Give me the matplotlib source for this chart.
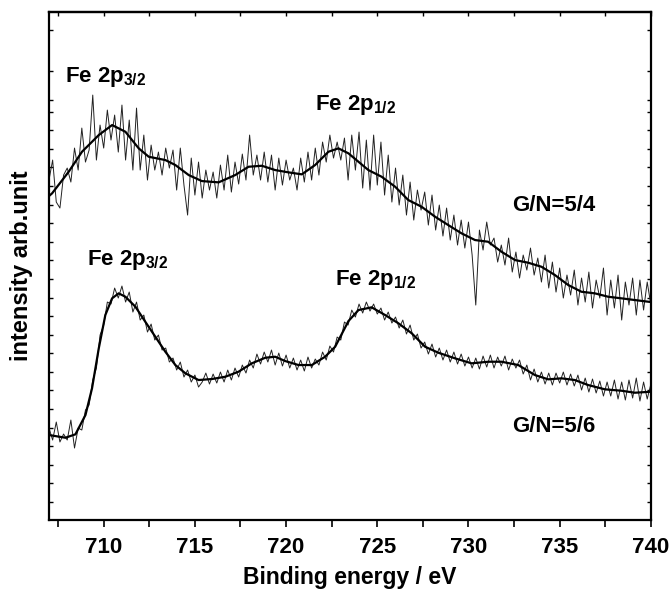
import matplotlib
matplotlib.use("Agg")
import matplotlib.pyplot as plt
import numpy as np

plt.rcParams['font.family'] = ['Liberation Sans', 'DejaVu Sans']
plt.rcParams['font.weight'] = 'bold'
plt.rcParams['mathtext.fontset'] = 'custom'
plt.rcParams['mathtext.rm'] = 'Liberation Sans:bold'
plt.rcParams['mathtext.it'] = 'Liberation Sans:bold'
plt.rcParams['mathtext.bf'] = 'Liberation Sans:bold'
plt.rcParams['mathtext.default'] = 'rm'

# ---------------- data ----------------
# binding energy grid of the raw spectra (eV)
energy_raw = [round(707.0 + 0.2 * i, 1) for i in range(166)]

# G/N=5/4 raw spectrum (arb. units)
raw_54 = [
    340, 360, 318, 312, 345, 352, 338, 372, 350, 392,
    358, 370, 425, 360, 395, 372, 410, 380, 405, 368,
    415, 360, 400, 350, 412, 350, 385, 340, 375, 350,
    368, 345, 372, 352, 370, 330, 372, 335, 305, 362,
    325, 358, 322, 350, 330, 348, 322, 355, 330, 365,
    328, 358, 336, 366, 340, 385, 345, 365, 340, 368,
    338, 365, 330, 362, 335, 360, 340, 352, 330, 362,
    338, 368, 340, 372, 345, 378, 358, 385, 362, 378,
    360, 382, 340, 385, 350, 388, 332, 380, 330, 385,
    335, 378, 325, 365, 318, 352, 315, 345, 305, 338,
    300, 330, 310, 328, 295, 325, 290, 315, 284, 312,
    280, 305, 275, 300, 272, 298, 265, 215, 290, 270,
    298, 275, 282, 258, 275, 255, 282, 248, 268, 242,
    265, 250, 272, 245, 262, 238, 265, 232, 258, 228,
    252, 222, 245, 225, 250, 215, 242, 218, 248, 212,
    240, 222, 252, 205, 240, 212, 245, 200, 238, 215,
    242, 205, 240, 210, 238, 215,
]

# G/N=5/6 raw spectrum (arb. units)
raw_56 = [
    92, 80, 98, 78, 86, 80, 100, 72, 92, 90,
    110, 115, 140, 152, 185, 195, 218, 216, 232, 222,
    234, 218, 228, 208, 218, 200, 205, 188, 196, 180,
    185, 170, 172, 158, 162, 150, 158, 143, 150, 138,
    145, 133, 138, 147, 136, 146, 137, 148, 138, 150,
    140, 152, 143, 155, 147, 160, 152, 166, 156, 168,
    158, 170, 155, 167, 154, 165, 152, 162, 150, 160,
    149, 163, 152, 161, 155, 168, 160, 174, 168, 183,
    180, 198, 195, 210, 203, 216, 207, 218, 209, 216,
    206, 212, 200, 208, 197, 203, 192, 200, 186, 195,
    180, 186, 172, 178, 166, 176, 163, 172, 160, 170,
    158, 168, 156, 166, 154, 163, 152, 162, 151, 164,
    153, 165, 152, 163, 154, 164, 150, 161, 152, 160,
    146, 155, 140, 151, 138, 148, 136, 147, 135, 147,
    137, 148, 135, 146, 134, 145, 130, 142, 128, 141,
    127, 139, 124, 138, 124, 140, 121, 138, 120, 140,
    122, 142, 119, 138, 121, 136,
]

# smoothed fits (read points)
fit_54_x = [707.0, 707.17, 708.08, 708.81, 709.73, 710.46, 711.19, 711.92, 712.47,
            713.38, 713.93, 714.66, 715.38, 716.30, 717.21, 717.94, 718.67, 719.40,
            720.13, 720.86, 721.59, 722.32, 722.87, 723.42, 724.51, 725.24, 725.98,
            726.70, 727.43, 728.17, 728.89, 729.62, 730.36, 731.08, 731.81, 732.55,
            733.28, 734.00, 734.74, 735.47, 736.19, 736.93, 737.66, 738.39, 739.12,
            740.0]
fit_54_y = [324, 326.7, 348.3, 368.3, 385, 395, 388.3, 371.7, 363.3,
            360, 355, 345, 339, 337.7, 345, 353.3, 354.3, 350,
            347.7, 345.7, 355, 368.3, 371.7, 366.7, 350, 343.3, 333.3,
            320, 313.3, 303.3, 295, 286.7, 280, 278.3, 268.3, 260,
            257.3, 253.3, 245, 235, 228.3, 226.7, 223.3, 221.7, 220,
            218]

fit_56_x = [707.0, 707.90, 708.45, 709.00, 709.36, 709.73, 710.09, 710.46, 710.82,
            711.19, 711.74, 712.28, 712.83, 713.38, 713.93, 714.48, 715.20, 715.93,
            716.67, 717.39, 718.12, 718.86, 719.40, 719.95, 720.68, 721.41, 722.14,
            722.69, 723.42, 723.97, 724.69, 725.43, 726.16, 726.89, 727.62, 728.35,
            729.26, 730.17, 731.09, 731.81, 732.73, 733.64, 734.37, 735.10, 735.83,
            736.56, 737.48, 738.39, 739.12, 740.0]
fit_56_y = [85, 82.3, 85.7, 105, 131.7, 171.7, 205, 221.7, 226.7,
            223.3, 213.3, 198.3, 183.3, 168.3, 155, 146.7, 140, 141,
            143.3, 148.3, 156.7, 162.3, 163.3, 159, 155, 155, 163.3,
            173.3, 199, 210, 212.7, 205, 196.7, 186.7, 173.3, 167.3,
            161.7, 156.7, 158.3, 158.3, 155, 145, 140.7, 141.7, 140,
            135, 130.7, 129.3, 127.3, 128.3]

x_ticks = [710, 715, 720, 725, 730, 735, 740]
y_ticks = [18, 37, 55, 74, 92, 111, 130, 148, 167, 185, 204, 222, 241, 260,
           278, 297, 315, 334, 353, 371, 390, 408, 420, 449, 490]

# ---------------- plot ----------------
fig = plt.figure(figsize=(6.71, 5.92), dpi=100)
ax = fig.add_axes([0.073, 0.1216, 0.897, 0.858])

ax.plot(energy_raw, raw_54, color='#222222', lw=0.7)
ax.plot(energy_raw, raw_56, color='#222222', lw=0.7)
ax.plot(fit_54_x, fit_54_y, color='black', lw=1.6)
ax.plot(fit_56_x, fit_56_y, color='black', lw=1.6)

ax.set_xlim(707, 740)
ax.set_ylim(0, 508)
ax.set_xticks(x_ticks)
ax.set_xticks(np.arange(707.5, 740, 2.5), minor=True)
ax.set_yticks(y_ticks)
ax.set_yticklabels([])
ax.tick_params(axis='x', which='both', direction='out', length=5, width=1.2,
               labelsize=16, pad=7, top=False)
ax.tick_params(axis='y', which='both', direction='in', length=3, width=1.0,
               left=True, right=True)
sec = ax.secondary_xaxis('top')
sec.set_xticks(x_ticks)
sec.set_xticks(np.arange(707.5, 740, 2.5), minor=True)
sec.tick_params(which='both', direction='in', length=3, width=1.0, labeltop=False)
sec.spines['top'].set_linewidth(1.6)
for s in ax.spines.values():
    s.set_linewidth(1.6)
for lab in ax.get_xticklabels():
    lab.set_fontweight('bold')

ax.set_xlabel('Binding energy / eV', fontsize=16.5, fontweight='bold', labelpad=6)
ax.set_ylabel('intensity arb.unit', fontsize=17, fontweight='bold', labelpad=8)

kw = dict(fontsize=16, fontweight='bold', ha='center', va='center')
ax.text(710.1, 443, r'Fe 2p$_{3/2}$', **kw)
ax.text(723.8, 415, r'Fe 2p$_{1/2}$', **kw)
ax.text(711.3, 260, r'Fe 2p$_{3/2}$', **kw)
ax.text(724.9, 240, r'Fe 2p$_{1/2}$', **kw)
ax.text(734.7, 315, 'G/N=5/4', **kw)
ax.text(734.7, 94, 'G/N=5/6', **kw)

fig.savefig('out.png', dpi=100)
